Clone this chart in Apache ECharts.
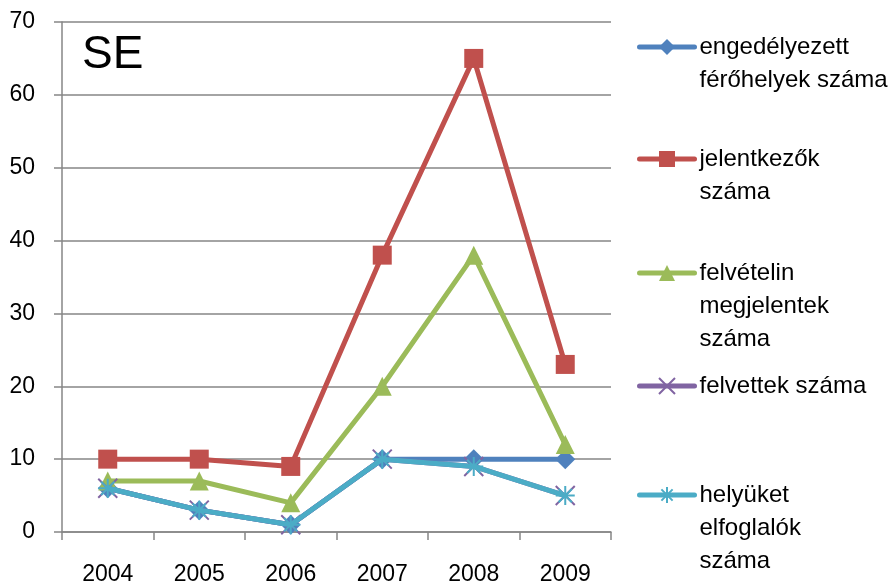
<!DOCTYPE html>
<html>
<head>
<meta charset="utf-8">
<script src="https://cdn.jsdelivr.net/npm/echarts@6/dist/echarts.min.js"></script>
<style>html,body{margin:0;padding:0;background:#fff}#c{width:890px;height:586px}</style>
</head>
<body>
<div id="c"></div>
<script>
var years = ['2004','2005','2006','2007','2008','2009'];
var engedelyezett = [6, 3, 1, 10, 10, 10];
var jelentkezok = [10, 10, 9, 38, 65, 23];
var megjelentek = [7, 7, 4, 20, 38, 12];
var felvettek = [6, 3, 1, 10, 9, 5];
var elfoglalok = [6, 3, 1, 10, 9, 5];
var names = ['engedélyezett\nférőhelyek száma', 'jelentkezők\nszáma', 'felvételin\nmegjelentek\nszáma', 'felvettek száma', 'helyüket\nelfoglalók\nszáma'];
var colors = ['#4F81BD', '#C0504D', '#9BBB59', '#8064A2', '#4BACC6'];
var symbols = ['diamond', 'rect', 'triangle', 'path://M0,0L10,10M10,0L0,10', 'path://M0,5L10,5M5,0L5,10M1.5,1.5L8.5,8.5M8.5,1.5L1.5,8.5'];
var values = [engedelyezett, jelentkezok, megjelentek, felvettek, elfoglalok];
var iconY = [47, 159, 273, 386, 495];
var FONT = 'Liberation Sans, Arial, sans-serif';
var LH = 33;

var series = names.map(function (n, i) {
  var isPath = i >= 3;
  return {
    name: n,
    type: 'line',
    data: values[i],
    symbol: symbols[i],
    symbolSize: isPath ? 19 : (i === 0 ? 20 : 19),
    showAllSymbol: true,
    lineStyle: { color: colors[i], width: 5, join: 'round', cap: 'round' },
    itemStyle: isPath ? { color: 'none', borderColor: colors[i], borderWidth: 2 } : { color: colors[i], borderColor: colors[i], borderWidth: 0 },
    emphasis: { disabled: true },
    z: 2 + i
  };
});

var legends = names.map(function (n, i) {
  var lines = n.split('\n').length;
  var pad = '';
  for (var k = 1; k < lines; k++) pad += '\n';
  var total = 2 * lines - 1;
  return {
    data: [n],
    left: 637,
    top: iconY[i] - total * LH / 2,
    padding: 0,
    itemWidth: 55,
    itemHeight: 20,
    itemGap: 0,
    selectedMode: false,
    lineStyle: { width: 5, cap: 'round' },
    formatter: function (name) { return pad + name; },
    textStyle: { fontFamily: FONT, fontSize: 24, lineHeight: LH, color: '#000', padding: [0, 0, 0, 0] }
  };
});

var chart = echarts.init(document.getElementById('c'), null, { renderer: 'canvas' });
chart.setOption({
  animation: false,
  backgroundColor: '#fff',
  title: {
    text: 'SE', left: 82, top: 32, padding: 0,
    textStyle: { fontFamily: FONT, fontSize: 46, fontWeight: 'normal', color: '#000' }
  },
  legend: legends,
  grid: { left: 62, top: 22, width: 549, height: 510, containLabel: false },
  xAxis: {
    type: 'category',
    data: years,
    boundaryGap: true,
    axisLine: { lineStyle: { color: '#868686', width: 1.5 } },
    axisTick: { show: true, length: 8, interval: 0, lineStyle: { color: '#868686', width: 1.5 } },
    axisLabel: { margin: 31, fontFamily: FONT, fontSize: 23, color: '#000', interval: 0 }
  },
  yAxis: {
    type: 'value',
    min: 0, max: 70, interval: 10,
    axisLine: { show: true, lineStyle: { color: '#868686', width: 1.5 } },
    axisTick: { show: true, length: 8, lineStyle: { color: '#868686', width: 1.5 } },
    splitLine: { lineStyle: { color: '#868686', width: 1.5 } },
    axisLabel: { margin: 27, fontFamily: FONT, fontSize: 23, color: '#000' }
  },
  series: series
});
</script>
</body>
</html>
